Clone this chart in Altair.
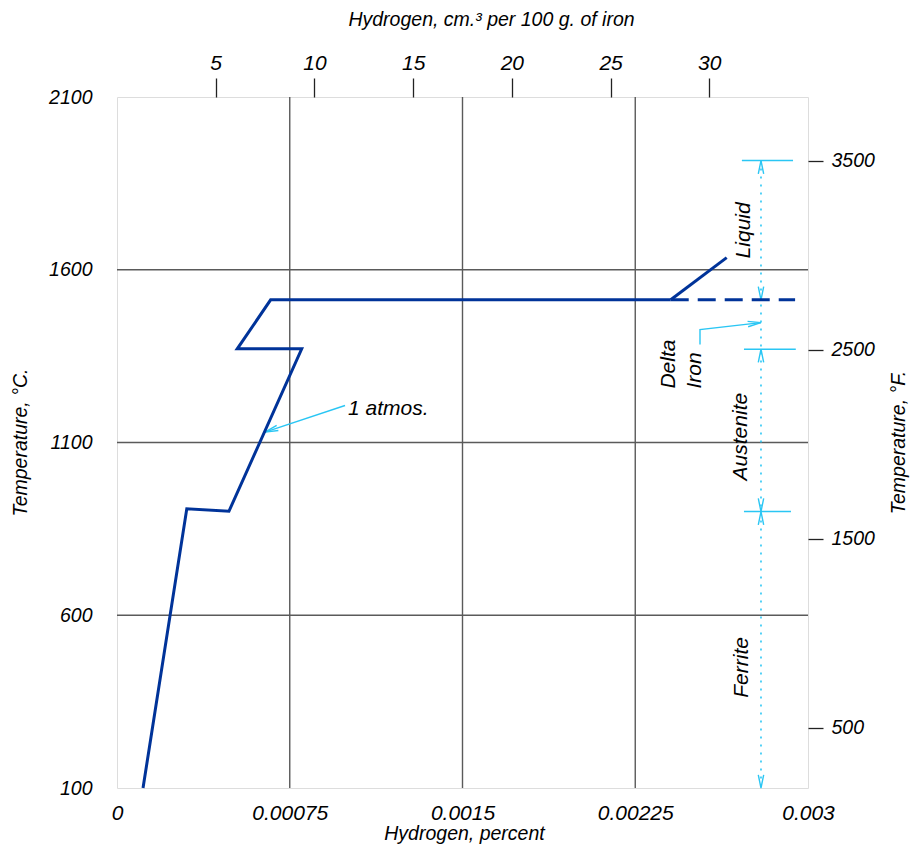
import altair as alt
import pandas as pd

# ---------------- data ----------------
# 1 atmosphere solubility curve: hydrogen percent vs temperature (deg C)
curve_h = [0.000113, 0.000303, 0.000486, 0.000802, 0.000522, 0.000667, 0.002404]
curve_t = [100, 908, 901, 1371, 1371, 1513, 1513]
# branch into the liquid
liquid_h = [0.002404, 0.002647]
liquid_t = [1513, 1635]
# dashed melting-point line
dash_h = [0.002404, 0.002944]
dash_t = [1513, 1513]

# axes
x_ticks = [0, 0.00075, 0.0015, 0.00225, 0.003]
x_labels = ["0", "0.00075", "0.0015", "0.00225", "0.003"]
c_ticks = [100, 600, 1100, 1600, 2100]
grid_x = [0.00075, 0.0015, 0.00225]
grid_y = [600, 1100, 1600]
top_ticks = [5, 10, 15, 20, 25, 30]
top_domain = [0, 35]
f_ticks = [500, 1500, 2500, 3500]
f_domain = [180, 3836]

# phase-range marker (cyan dotted line at right)
phase_h = 0.0027959
phase_top = 1916
phase_bottom = 100
phase_bounds_t = [1916, 1370, 900]
phase_bounds_h1 = [0.002713, 0.002722, 0.002722]
phase_bounds_h2 = [0.002935, 0.002947, 0.002926]

# arrowheads: tip position and rotation (deg)
arrow_h = [0.0027959, 0.0027959, 0.0027959, 0.0027959, 0.0027959, 0.0027959, 0.0006425, 0.0027959]
arrow_t = [1916, 1513, 1370, 900, 900, 100, 1130, 1447]
arrow_a = [0, 180, 0, 180, 0, 180, 251.6, 83.5]

# leader lines
atm_h = [0.000990, 0.0006425]
atm_t = [1207, 1130]
delta_h = [0.0025311, 0.0025311, 0.0027959]
delta_t = [1384, 1427, 1447]

# labels
vlab_text = ["Liquid", "Austenite", "Ferrite"]
vlab_h = [0.002722, 0.002711, 0.002713]
vlab_t = [1714, 1117, 449]
dlab_text = ["Delta", "Iron"]
dlab_h = [0.002397, 0.002509]
dlab_t = [1256, 1256]
atm_text = ["1 atmos."]
atm_lab_h = [0.001003]
atm_lab_t = [1198]

# ---------------- styles ----------------
BLUE = "#003399"
CYAN = "#2ac6f4"
GRID = "#5a5a5a"
FONT = "Liberation Sans, Arial, sans-serif"

xs = alt.Scale(domain=[0, 0.003], nice=False, zero=False)
ys = alt.Scale(domain=[100, 2100], nice=False, zero=False)

x_label_expr = " : ".join(
    f"abs(datum.value - {v}) < 1e-9 ? '{s}'" for v, s in zip(x_ticks, x_labels)
) + " : ''"


def X(f="h"):
    return alt.X(f"{f}:Q", scale=xs, axis=None)


def Y(f="t"):
    return alt.Y(f"{f}:Q", scale=ys, axis=None)


title_style = dict(titleFont=FONT, titleFontSize=19.5, titleFontStyle="italic",
                   titleFontWeight="normal", titleColor="black")

# grid rules
gx = alt.Chart(pd.DataFrame({"h": grid_x})).mark_rule(color=GRID, strokeWidth=1.4).encode(x=X())
gy = alt.Chart(pd.DataFrame({"t": grid_y})).mark_rule(color=GRID, strokeWidth=1.4).encode(y=Y())

# main curve with bottom/left axes
curve_df = pd.DataFrame({"h": curve_h, "t": curve_t, "i": list(range(len(curve_h)))})
curve = alt.Chart(curve_df).mark_line(color=BLUE, strokeWidth=3, strokeJoin="miter").encode(
    x=alt.X("h:Q", scale=xs, axis=alt.Axis(
        orient="bottom", values=x_ticks, labelExpr=x_label_expr, title="Hydrogen, percent",
        grid=False, ticks=False, tickSize=0, domain=False,
        labelFont=FONT, labelFontSize=21, labelFontStyle="italic", labelColor="black",
        labelPadding=14, labelFlush=False, labelOverlap=False,
        titleX=347, titleY=45, titleBaseline="middle", **title_style)),
    y=alt.Y("t:Q", scale=ys, axis=alt.Axis(
        orient="left", values=c_ticks, format="d", title="Temperature, °C.",
        grid=False, ticks=False, tickSize=0, domain=False,
        labelFont=FONT, labelFontSize=19.5, labelFontStyle="italic", labelColor="black",
        labelPadding=25, labelFlush=False, labelOverlap=False,
        titleX=-97, titleY=345, titleAngle=270, titleBaseline="middle", **title_style)),
    order="i:O",
)

liquid = alt.Chart(pd.DataFrame({"h": liquid_h, "t": liquid_t})).mark_line(
    color=BLUE, strokeWidth=3).encode(x=X(), y=Y())
dash = alt.Chart(pd.DataFrame({"h": dash_h, "t": dash_t})).mark_line(
    color=BLUE, strokeWidth=3, strokeDash=[18, 9]).encode(x=X(), y=Y())

# top / right axes
axis_df = pd.DataFrame({"a": top_domain, "f": f_domain})
axes2 = alt.Chart(axis_df).mark_point(opacity=0).encode(
    x=alt.X("a:Q", scale=alt.Scale(domain=top_domain, nice=False, zero=False), axis=alt.Axis(
        orient="top", values=top_ticks, format="d", title="Hydrogen, cm.³ per 100 g. of iron",
        grid=False, ticks=True, tickSize=19, tickColor="#222222", tickWidth=1.3, domain=False,
        labelFont=FONT, labelFontSize=21, labelFontStyle="italic", labelColor="black",
        labelPadding=5, labelFlush=False, labelOverlap=False,
        titleX=374, titleY=-78, titleBaseline="middle", **title_style)),
    y=alt.Y("f:Q", scale=alt.Scale(domain=f_domain, nice=False, zero=False), axis=alt.Axis(
        orient="right", values=f_ticks, format="d", title="Temperature, °F.",
        grid=False, ticks=True, tickSize=15, tickColor="#222222", tickWidth=1.3, domain=False,
        labelFont=FONT, labelFontSize=19.5, labelFontStyle="italic", labelColor="black",
        labelPadding=8, labelFlush=False, labelOverlap=False,
        titleX=90, titleY=345, titleAngle=270, titleBaseline="middle", **title_style)),
)

# cyan phase marker
dotted = alt.Chart(pd.DataFrame({"h": [phase_h], "t": [phase_top], "t2": [phase_bottom]})).mark_rule(
    color=CYAN, strokeWidth=1.6, strokeDash=[2, 6]).encode(x=X(), y=Y(), y2="t2:Q")
bounds = alt.Chart(pd.DataFrame({"h": phase_bounds_h1, "h2": phase_bounds_h2, "t": phase_bounds_t})).mark_rule(
    color=CYAN, strokeWidth=1.5).encode(x=X(), x2="h2:Q", y=Y())

lead_rows = []
for k, (hh, tt) in enumerate(zip(atm_h, atm_t)):
    lead_rows.append({"seg": "atm", "i": k, "h": hh, "t": tt})
for k, (hh, tt) in enumerate(zip(delta_h, delta_t)):
    lead_rows.append({"seg": "delta", "i": k, "h": hh, "t": tt})
leaders = alt.Chart(pd.DataFrame(lead_rows)).mark_line(color=CYAN, strokeWidth=1.4).encode(
    x=X(), y=Y(), detail="seg:N", order="i:O")

CHEVRON = "M-0.45,2.2L0,0L0.45,2.2"
heads = alt.Chart(pd.DataFrame({"h": arrow_h, "t": arrow_t, "ang": arrow_a})).mark_point(
    shape=CHEVRON, filled=False, color=CYAN, strokeWidth=1.4, size=144, opacity=1).encode(
    x=X(), y=Y(), angle=alt.Angle("ang:Q", scale=None))

# text labels
vlabels = alt.Chart(pd.DataFrame({"h": vlab_h, "t": vlab_t, "s": vlab_text})).mark_text(
    angle=270, align="center", baseline="middle", font=FONT, fontSize=21, fontStyle="italic",
    color="black").encode(x=X(), y=Y(), text="s:N")
dlabels = alt.Chart(pd.DataFrame({"h": dlab_h, "t": dlab_t, "s": dlab_text})).mark_text(
    angle=270, align="left", baseline="middle", font=FONT, fontSize=21, fontStyle="italic",
    color="black").encode(x=X(), y=Y(), text="s:N")
alabel = alt.Chart(pd.DataFrame({"h": atm_lab_h, "t": atm_lab_t, "s": atm_text})).mark_text(
    align="left", baseline="middle", font=FONT, fontSize=21, fontStyle="italic",
    color="black").encode(x=X(), y=Y(), text="s:N")

chart = alt.layer(
    gx, gy, dotted, bounds, leaders, heads, dash, liquid, curve, axes2, vlabels, dlabels, alabel
).resolve_scale(x="independent", y="independent").properties(
    width=691, height=691,
    autosize=alt.AutoSizeParams(type="none"),
    padding={"left": 109, "top": 89, "right": 102, "bottom": 57},
).configure_view(stroke=BLUE, strokeWidth=3).configure(background="white")

chart.save("out.html", embed_options={"renderer": "svg", "actions": False})
